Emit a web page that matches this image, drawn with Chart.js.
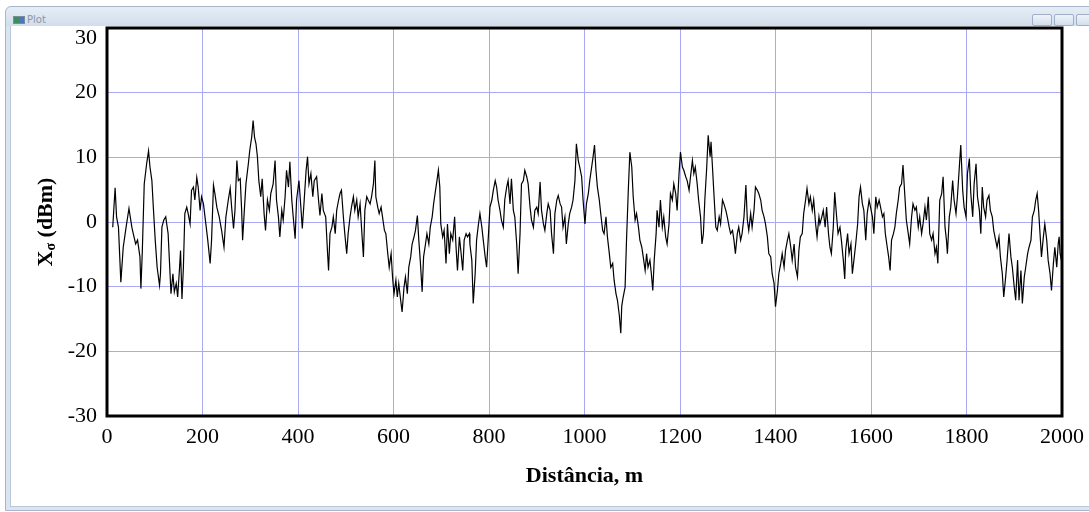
<!DOCTYPE html>
<html>
<head>
<meta charset="utf-8">
<script src="https://cdn.jsdelivr.net/npm/chart.js@4.4.0/dist/chart.umd.min.js"></script>
<style>
  body { margin: 0; width: 1089px; height: 512px; overflow: hidden; background: #fff; position: relative; }
  #janela { position: absolute; left: 5px; top: 6px; width: 1090px; height: 505px; background: #dbe5f1; border: 1px solid #a7b6c9; border-radius: 6px 6px 0 0; box-sizing: border-box; }
  #barra { position: absolute; left: 0; top: 0; right: 0; height: 19px; background: linear-gradient(#e6edf6, #d2deec); border-radius: 6px 6px 0 0; }
  #icone { position: absolute; left: 7px; top: 9px; width: 10px; height: 6px; background: linear-gradient(90deg, #3a8f5a 50%, #4a78b8 50%); border: 1px solid #7a8aa0; }
  #titulo { position: absolute; left: 21px; top: 7px; font: 10px "DejaVu Sans", sans-serif; color: #8c96a3; }
  .botao { position: absolute; top: 7px; width: 18px; height: 10px; border: 1px solid #9fb0c6; border-radius: 2px; background: linear-gradient(#eef3f9, #d3dfed); }
  #conteudo { position: absolute; left: 4px; top: 19px; right: 0; bottom: 3px; background: #fff; border-left: 1px solid #b9c7d9; border-bottom: 1px solid #b9c7d9; }
  canvas { position: absolute; left: 0; top: 0; }
</style>
</head>
<body>
<div id="janela">
  <div id="barra">
    <div id="icone"></div>
    <div id="titulo">Plot</div>
    <div class="botao" style="left:1026px"></div>
    <div class="botao" style="left:1048px"></div>
    <div class="botao" style="left:1070px"></div>
  </div>
  <div id="conteudo"></div>
</div>
<canvas id="grafico" width="1089" height="512"></canvas>
<script>
// valores (distância em m, Xσ em dBm)
const distancia = [
  12, 17, 20, 24, 29, 34, 40, 46, 52, 55, 60, 64, 69, 71, 74, 78, 83, 87, 90, 94, 97, 101, 105, 110, 112, 115, 119, 123, 126, 128,
  131, 134, 138, 141, 145, 148, 152, 154, 157, 160, 163, 167, 170, 174, 177, 181, 184, 188, 191, 195, 198, 202, 207, 211, 216, 219, 223, 226, 230, 235,
  240, 245, 249, 254,
  258, 261, 265, 268, 272, 275, 279, 282, 284, 288, 291, 296, 299, 303, 306, 309, 312, 315, 318, 322, 325, 329, 332, 336, 340, 343, 348, 352, 355, 359,
  362, 366, 369, 373, 376, 380, 383, 387, 390, 394, 397, 402, 406, 409, 413, 417, 420, 423, 427, 431, 434, 439, 443, 446, 450, 453, 458, 462, 464, 467,
  471, 474, 478, 481, 485,
  488, 491, 495, 498, 502, 505, 509, 512, 516, 519, 523, 526, 530, 533, 537, 540, 544, 547, 551, 554, 558, 561, 563, 567, 570, 574, 577, 581, 584, 588,
  591, 595, 598, 601, 605, 608, 611, 615, 618, 622, 625, 629, 632, 636, 639, 643, 646, 650, 653, 656, 660, 663, 667, 670, 674, 677, 681, 684, 688, 691,
  694, 697, 699, 703, 706, 710, 713, 717, 720, 724, 728, 731, 734, 738, 741, 745, 748, 752, 755, 759,
  760, 764, 767, 771, 774, 778, 781, 785, 788, 792, 795, 799, 802, 806, 809, 813, 816, 819, 823, 826, 830, 833, 837, 840, 844, 847, 851, 854, 858, 861,
  865, 868, 872, 875, 879, 882, 886, 889, 893, 896, 900, 903, 907, 910, 914, 917, 921, 924, 928, 931, 935, 938, 942, 945, 949, 952, 955, 959, 962, 966,
  969, 973, 976, 980, 983, 987, 990, 994, 997, 1001,
  1004, 1008, 1011, 1015, 1018, 1021, 1024, 1027, 1031, 1034, 1038, 1041, 1045, 1048, 1052, 1055, 1059, 1062, 1066, 1069, 1073, 1076, 1078, 1081, 1085, 1088, 1092, 1095, 1099, 1102,
  1106, 1109, 1113, 1116, 1120, 1123, 1127, 1130, 1133, 1137, 1140, 1143, 1146, 1150, 1152, 1156, 1159, 1163, 1166, 1170, 1173, 1177, 1180, 1184, 1187, 1191, 1194, 1198, 1201, 1205,
  1208, 1212, 1215, 1219, 1222, 1226, 1229, 1232, 1236, 1239, 1243, 1246,
  1249, 1252, 1256, 1259, 1263, 1265, 1268, 1271, 1275, 1278, 1282, 1285, 1289, 1292, 1296, 1299, 1303, 1306, 1310, 1313, 1316, 1320, 1323, 1327, 1330, 1334, 1338, 1341, 1344, 1348,
  1351, 1355, 1358, 1362, 1365, 1369, 1372, 1376, 1379, 1383, 1386, 1390, 1393, 1397, 1400, 1404, 1407, 1411, 1414, 1418, 1421, 1425, 1428, 1432, 1435, 1439, 1442, 1446, 1449, 1452,
  1456, 1459, 1463, 1466, 1470, 1473, 1477, 1480, 1484, 1487, 1491,
  1493, 1497, 1500, 1504, 1507, 1511, 1514, 1517, 1521, 1524, 1528, 1531, 1535, 1538, 1542, 1545, 1547, 1551, 1554, 1558, 1561, 1565, 1568, 1572, 1575, 1578, 1582, 1585, 1589, 1592,
  1596, 1599, 1603, 1606, 1610, 1613, 1617, 1620, 1624, 1627, 1630, 1634, 1637, 1640, 1643, 1647, 1650, 1653, 1657, 1660, 1664, 1667, 1671, 1674, 1678, 1681, 1685, 1688, 1692, 1695,
  1699, 1702, 1706, 1709, 1713, 1716, 1720, 1723, 1727, 1730, 1734, 1737, 1740,
  1744, 1748, 1751, 1755, 1758, 1760, 1764, 1767, 1771, 1774, 1778, 1781, 1785, 1788, 1792, 1795, 1799, 1802, 1806, 1809, 1813, 1816, 1820, 1823, 1827, 1830, 1833, 1836, 1840, 1843,
  1847, 1850, 1854, 1857, 1861, 1864, 1868, 1871, 1875, 1878, 1882, 1885, 1889, 1893, 1896, 1900, 1903, 1907, 1910, 1914, 1917, 1921, 1924, 1928, 1931, 1935, 1938, 1942, 1945, 1948,
  1951, 1954, 1957, 1961, 1964, 1968, 1971, 1975, 1978, 1982, 1985, 1989, 1992, 1994, 1996, 1999
];
const xsigma = [
  -0.8, 5.3, 0.8, -0.8, -9.3, -3.9, -0.8, 2.1, -0.8, -1.8, -3.4, -2.8, -5.4, -10.3, -4.4, 5.9, 9.0, 11.0, 8.5, 6.4, 2.3, -2.8, -7.0, -9.8, -8.0, -0.8, 0.3, 0.8, -0.8, -1.8,
  -6.4, -11.1, -8.0, -10.8, -9.5, -11.6, -7.0, -4.4, -11.9, -7.0, 1.3, 2.3, 1.3, -0.3, 4.9, 5.4, 3.4, 6.9, 5.4, 1.8, 3.9, 2.8, -0.3, -2.8, -6.4, -2.8, 5.7, 4.4, 2.3, 0.8,
  -1.3, -3.9, 0.8, 3.4,
  5.2, 2.3, -1.0, 1.8, 9.5, 6.4, 6.7, 1.8, -2.8, 2.3, 5.9, 9.0, 11.1, 13.1, 15.7, 13.1, 12.1, 10.1, 6.4, 3.9, 6.7, 1.3, -1.3, 3.4, 1.8, 4.4, 5.9, 9.5, 3.4, 0.8,
  -2.3, 1.8, 0.3, 3.9, 8.0, 5.4, 9.3, 3.4, 0.8, -2.6, 3.4, 6.4, 2.3, -1.0, 3.4, 8.0, 10.1, 5.9, 7.5, 3.9, 6.4, 7.0, 3.4, 1.0, 4.4, 1.8, 0.8, -4.9, -7.5, -1.8,
  -0.8, 0.8, -1.8, 1.8, 3.4,
  4.4, 4.9, 0.8, -1.8, -4.9, -1.8, 0.8, 2.3, 3.9, 1.8, 3.4, 0.8, 2.8, -0.8, -5.4, 1.8, 3.9, 3.4, 2.8, 3.9, 5.9, 9.5, 3.9, 2.3, 1.3, 2.3, 0.8, -1.3, -1.8, -4.9,
  -7.0, -4.9, -8.5, -11.1, -9.0, -11.6, -9.5, -12.1, -13.9, -10.1, -8.5, -11.1, -7.0, -5.4, -3.4, -2.3, -1.3, 1.0, -2.8, -5.9, -10.8, -5.4, -3.4, -1.8, -3.4, -0.8, 0.8, 2.8, 4.9, 6.4,
  8.0, 5.4, -0.3, -2.3, -1.3, -6.4, -0.3, -4.9, -1.8, -2.8, 0.8, -3.9, -7.5, -2.3, -4.4, -7.5, -2.8, -1.8, -2.3, -1.8,
  -3.4, -5.9, -12.6, -8.0, -2.8, -0.3, 1.3, -0.8, -2.8, -5.4, -7.0, -1.8, 2.3, 3.4, 4.9, 6.4, 5.4, 3.4, 1.8, 0.3, -0.8, 3.4, 5.4, 6.4, 2.8, 6.7, 1.8, 0.8, -3.4, -8.0,
  -1.8, 5.9, 6.4, 8.0, 7.0, 5.9, 2.3, 0.3, -0.8, 1.8, 2.3, 1.3, 6.2, 1.8, -0.3, -1.3, 1.3, 2.8, 1.8, -1.8, -4.9, 1.3, 3.4, 4.1, 2.8, 2.3, -0.8, 0.8, -3.4, -0.3,
  1.3, 2.3, 3.4, 6.4, 12.1, 9.5, 8.5, 7.0, 3.4, -0.3,
  2.8, 4.4, 6.4, 8.5, 10.1, 11.9, 8.0, 5.4, 3.4, 1.3, -1.3, -1.8, 0.8, -2.3, -4.9, -7.0, -6.4, -9.0, -11.1, -12.1, -14.5, -17.2, -13.0, -11.6, -10.1, -2.8, 5.4, 10.8, 8.5, 3.9,
  0.3, 1.3, -0.8, -2.8, -3.9, -5.4, -7.5, -4.9, -7.0, -5.9, -8.0, -10.6, -5.9, -1.8, 1.8, -0.8, 3.4, -0.8, 0.8, -2.3, -3.4, -0.3, 4.4, 3.4, 5.9, 4.4, 1.8, 7.5, 10.8, 8.5,
  8.0, 7.0, 6.4, 4.9, 7.0, 9.5, 7.5, 8.5, 5.9, 3.4, 0.8, -3.4,
  -1.8, 3.4, 8.5, 13.4, 10.1, 12.4, 8.5, 4.4, -0.8, -1.3, 0.8, -0.3, 3.4, 2.8, 1.8, 0.8, -0.8, -1.8, -1.3, -2.8, -4.9, -1.8, -0.8, -2.8, -1.8, 0.8, 5.7, 0.3, -1.3, 1.3,
  -0.8, 1.8, 5.4, 4.9, 4.4, 3.4, 1.8, 0.8, -0.3, -2.3, -4.9, -5.4, -8.0, -9.5, -13.1, -10.6, -8.0, -6.4, -4.9, -7.0, -4.4, -2.8, -1.8, -3.9, -5.9, -3.4, -7.0, -8.5, -4.4, -2.3,
  -1.8, 1.3, 3.4, 5.2, 2.8, 3.9, 1.8, 3.4, -0.3, -2.3, 0.8,
  -0.3, 0.8, 1.8, -0.8, 2.3, -1.8, -3.9, -4.9, -0.8, 4.6, 0.8, -1.8, -0.8, -2.8, -5.9, -8.8, -4.4, -1.8, -4.9, -3.4, -8.0, -5.4, -3.4, -0.3, 3.9, 5.4, 2.8, 1.8, -2.8, 1.3,
  3.4, 2.3, 0.8, -1.8, 3.9, 2.3, 3.4, 2.3, 0.8, 1.3, -1.8, -3.9, -5.4, -7.5, -2.8, -1.8, -0.8, 1.3, 3.4, 5.4, 5.9, 8.8, 3.9, 0.3, -1.8, -3.4, 0.8, 2.8, 1.8, 2.3,
  -0.8, 0.8, -1.8, -0.3, 2.3, 0.3, 3.9, -1.8, -2.8, -1.8, -4.9, -3.9, -6.4,
  3.4, 4.4, 7.0, -0.8, -2.8, -4.9, 0.8, 2.3, 6.4, 3.4, 1.3, 3.9, 8.5, 11.9, 4.9, 2.3, 0.8, 7.5, 9.8, 4.4, 0.8, 5.9, 9.0, 3.9, 1.8, -1.8, 5.4, 2.3, 0.8, 3.4,
  4.1, 1.8, 0.8, -1.3, -2.8, -3.9, -2.3, -5.4, -8.0, -11.6, -8.5, -5.9, -1.8, -5.4, -7.0, -10.1, -12.1, -5.9, -12.1, -7.5, -12.6, -8.5, -7.0, -4.9, -3.9, -2.8, 0.8, 1.8, 3.4, 4.4,
  1.8, -1.8, -5.4, -2.3, -0.3, -2.8, -5.9, -8.0, -10.6, -6.4, -3.9, -7.0, -3.4, -2.3, -4.9, -6.0
];
const ticksY = [-30, -20, -10, 0, 10, 20, 30];
const fonteEixo = 'Liberation Serif';
const corGrade = '#a9a9f6';

var pontos = [];
for (var i = 0; i < distancia.length; i++) {
  pontos.push({ x: distancia[i], y: xsigma[i] });
}

// moldura preta, rótulos do eixo Y e título com subscrito
const plugDesenho = {
  id: 'desenho',
  afterDraw(chart) {
    const ctx = chart.ctx;
    const a = chart.chartArea;
    const y = chart.scales.y;
    ctx.save();
    ctx.strokeStyle = '#000';
    ctx.lineWidth = 3;
    ctx.strokeRect(a.left, a.top, a.right - a.left, a.bottom - a.top);

    ctx.fillStyle = '#000';
    ctx.font = '22px "' + fonteEixo + '"';
    ctx.textAlign = 'right';
    ctx.textBaseline = 'middle';
    for (var i = 0; i < ticksY.length; i++) {
      var py = y.getPixelForValue(ticksY[i]);
      if (py < a.top + 10) py = a.top + 10;
      ctx.fillText(String(ticksY[i]), a.left - 10, py);
    }

    // título Y: X com σ subscrito
    var meio = (a.top + a.bottom) / 2;
    ctx.translate(52, meio);
    ctx.rotate(-Math.PI / 2);
    ctx.textAlign = 'left';
    ctx.textBaseline = 'alphabetic';
    var fGrande = 'bold 22px "' + fonteEixo + '"';
    var fPequena = 'bold 14px "' + fonteEixo + '"';
    ctx.font = fGrande;
    var w1 = ctx.measureText('X').width;
    var w3 = ctx.measureText(' (dBm)').width;
    ctx.font = fPequena;
    var w2 = ctx.measureText('σ').width;
    var x0 = -(w1 + w2 + w3) / 2;
    ctx.font = fGrande;
    ctx.fillText('X', x0, 0);
    ctx.font = fPequena;
    ctx.fillText('σ', x0 + w1, 3);
    ctx.font = fGrande;
    ctx.fillText(' (dBm)', x0 + w1 + w2, 0);
    ctx.restore();
  }
};

new Chart(document.getElementById('grafico'), {
  type: 'line',
  data: {
    datasets: [{
      data: pontos,
      borderColor: '#000',
      borderWidth: 1.2,
      pointRadius: 0,
      tension: 0,
      fill: false
    }]
  },
  options: {
    responsive: false,
    animation: false,
    devicePixelRatio: 1,
    layout: { padding: { left: 0, top: 28, right: 27, bottom: 0 } },
    plugins: { legend: { display: false }, tooltip: { enabled: false } },
    scales: {
      x: {
        type: 'linear',
        min: 0,
        max: 2000,
        ticks: {
          stepSize: 200, maxRotation: 0, autoSkip: false, padding: 8, color: '#000',
          font: { family: fonteEixo, size: 22 },
          callback: function (v) { return String(v); }
        },
        grid: { color: corGrade, lineWidth: 1, drawTicks: false },
        border: { display: false },
        title: { display: true, text: 'Distância, m', color: '#000', font: { family: fonteEixo, size: 22, weight: 'bold' }, padding: { top: 0, bottom: 22 } },
        afterFit(scale) {
          scale.height = 96;
          scale.paddingLeft = 0;
          scale.paddingRight = 0;
        }
      },
      y: {
        min: -30,
        max: 30,
        ticks: { stepSize: 10, display: false },
        grid: { color: corGrade, lineWidth: 1, drawTicks: false },
        border: { display: false },
        afterFit(scale) { scale.width = 107; }
      }
    }
  },
  plugins: [plugDesenho]
});
</script>
</body>
</html>
